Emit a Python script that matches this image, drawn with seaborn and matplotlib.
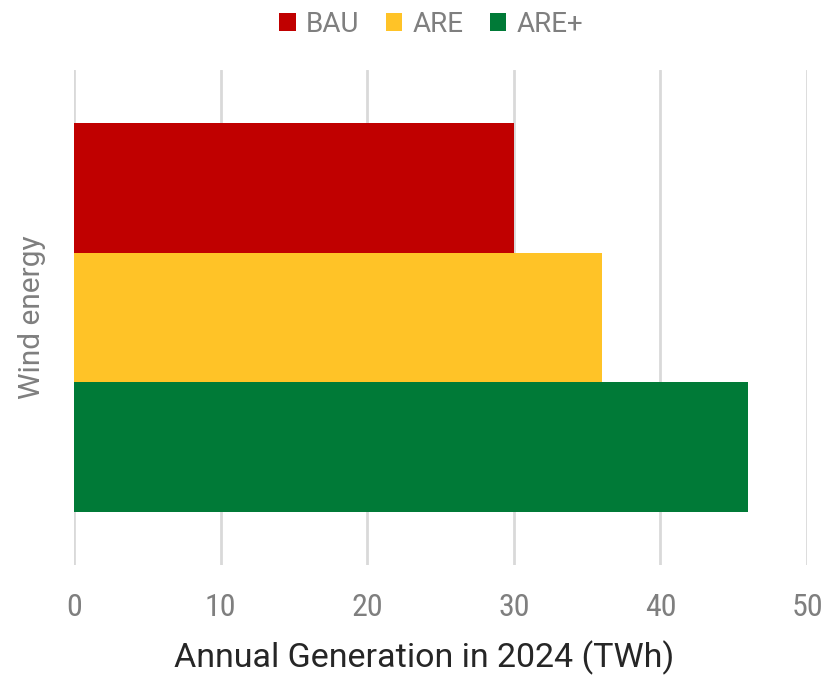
import matplotlib
matplotlib.use("Agg")
import matplotlib.pyplot as plt
import seaborn as sns
import pandas as pd

categories = ["Wind energy"]
scenarios = ["BAU", "ARE", "ARE+"]
values = [30, 36, 46]
colors = ["#C00000", "#FFC327", "#007A37"]
xticks = [0, 10, 20, 30, 40, 50]

df = pd.DataFrame({
    "category": categories * len(scenarios),
    "scenario": scenarios,
    "value": values,
})

sns.set_theme(style="white")
plt.rcParams["font.family"] = ["Roboto", "DejaVu Sans"]
narrow = ["Roboto Condensed", "Liberation Sans Narrow", "Roboto", "DejaVu Sans"]

fig = plt.figure(figsize=(8.39, 6.77), dpi=100)
ax = fig.add_axes([0.0882, 0.1654, 0.8738, 0.7312])

sns.barplot(data=df, y="category", x="value", hue="scenario",
            hue_order=scenarios, palette=colors, orient="h",
            width=0.786, saturation=1, linewidth=0, ax=ax, legend=True)

ax.set_xlim(0, 50)
ax.set_ylim(0.5, -0.5)
ax.set_xticks(xticks)
ax.set_xticklabels([str(t) for t in xticks], fontsize=23, color="#7F7F7F",
                   family=narrow)
ax.tick_params(axis="x", length=0, pad=20)
ax.tick_params(axis="y", length=0, pad=20)
ax.set_yticks([0])
ax.set_yticklabels(categories, rotation=90, va="center", fontsize=21.5, color="#7F7F7F")
ax.set_ylabel("")
ax.set_xlabel("Annual Generation in 2024 (TWh)", fontsize=24.5, color="#262626",
              va="baseline")
ax.xaxis.set_label_coords(0.478, -0.207)

ax.grid(axis="x", color="#D9D9D9", linewidth=2)
ax.set_axisbelow(True)
for s in ax.spines.values():
    s.set_visible(False)

handles, labels = ax.get_legend_handles_labels()
ax.legend(handles, labels, loc="upper center", bbox_to_anchor=(0.487, 1.17),
          ncol=3, frameon=False, fontsize=20, handlelength=0.6, handleheight=0.6,
          handletextpad=0.36, columnspacing=0.95, labelcolor="#7F7F7F")

fig.savefig("out.png", dpi=100)
